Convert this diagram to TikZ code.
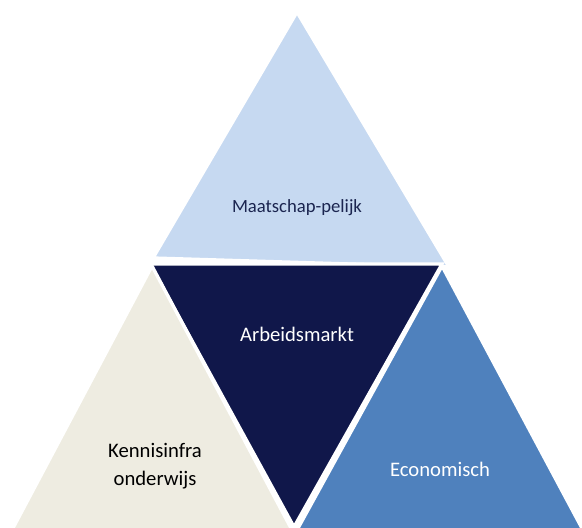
\documentclass[tikz,border=0pt]{standalone}
\usepackage{fontspec}
\setmainfont{Carlito}
\definecolor{skyblue}{HTML}{C6D9F1}
\definecolor{navy}{HTML}{10174A}
\definecolor{tan}{HTML}{EEECE1}
\definecolor{steel}{HTML}{4F81BD}
\definecolor{inkblue}{HTML}{1B2550}
\tikzset{
  tri/.style={draw=white, line width=2.5, line join=miter},
  lbl/.style={align=center, inner sep=0pt, font=\fontsize{#1}{#1}\selectfont},
  lbl/.default=15.5pt
}
\begin{document}
\begin{tikzpicture}[x=0.75pt,y=-0.75pt]
\useasboundingbox (0,0) rectangle (582,528);
\clip (0,0) rectangle (582,528);
% top triangle
\filldraw[tri, fill=skyblue] (297,12) -- (153,258) -- (449,267) -- cycle;
% inverted centre triangle
\filldraw[tri, fill=navy] (150,264) -- (442,264) -- (294,527) -- cycle;
% lower left triangle
\filldraw[tri, fill=tan] (152,266) -- (292,530) -- (288,560) -- (4,560) -- (12,530) -- cycle;
% lower right triangle
\filldraw[tri, fill=steel] (442,266) -- (584,532) -- (590,560) -- (296,560) -- (297,530) -- cycle;
% labels
\node[lbl=14pt, text=inkblue] (m) at (297,208) {Maatschap-pelijk};
\node[lbl, text=white] (a) at (297,334) {Arbeidsmarkt};
\node[lbl, text=black, anchor=base] (k1) at (155,457) {Kennisinfra};
\node[lbl, text=black, anchor=base] (k2) at (155,485) {onderwijs};
\node[lbl, text=white] (e) at (440,469) {Economisch};
\end{tikzpicture}
\end{document}
